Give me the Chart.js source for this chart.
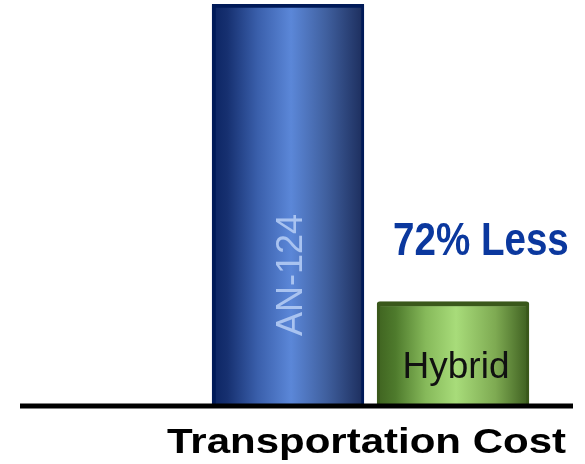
<!DOCTYPE html>
<html>
<head>
<meta charset="utf-8">
<script src="https://cdn.jsdelivr.net/npm/chart.js@4"></script>
<style>
  html, body { margin: 0; padding: 0; background: #fff; }
  #wrap { width: 585px; height: 464px; position: relative; }
</style>
</head>
<body>
<div id="wrap"><canvas id="chartCosto"></canvas></div>
<script>
// ====================================
// TRANSPORTATION COST - bar chart
// ====================================

const categorie = ['AN-124', 'Hybrid'];
const posizioni = [0, 1];
const costi = [100, 26];
const richiamo = '72% Less';
const titolo = 'Transportation Cost';

const X_MIN = -1.624;
const X_MAX = 1.727;
const PADDING = { left: 20, right: 12, top: 4, bottom: 58 };
const BAR_PCT = 0.92;
const BAR_PX = (585 - PADDING.left - PADDING.right) / (X_MAX - X_MIN) * BAR_PCT;

// gradient stops per bar (horizontal shading, like a cylinder)
const sfumature = [
    [[0, '#0b2462'], [0.1, '#163070'], [0.3, '#3a5fab'], [0.52, '#5b87d8'], [0.75, '#40609f'], [1, '#1c2d5c']],
    [[0, '#3f6320'], [0.12, '#4e7a2c'], [0.32, '#86b95a'], [0.52, '#a8dc7a'], [0.78, '#7eaa52'], [1, '#3d5e1f']]
];
const bordi = ['#001a58', '#3a581b'];

function riempimento(context) {
    const chart = context.chart;
    if (!chart.chartArea || !chart.scales.x) return bordi[context.dataIndex];
    const cx = chart.scales.x.getPixelForValue(posizioni[context.dataIndex]);
    const half = BAR_PX / 2;
    const g = chart.ctx.createLinearGradient(cx - half, 0, cx + half, 0);
    sfumature[context.dataIndex].forEach(s => g.addColorStop(s[0], s[1]));
    return g;
}

function scriviTesto(ctx, testo, x, y, font, colore, scalaX, align) {
    ctx.save();
    ctx.translate(x, y);
    ctx.scale(scalaX, 1);
    ctx.font = font;
    ctx.fillStyle = colore;
    ctx.textAlign = align;
    ctx.textBaseline = 'alphabetic';
    ctx.fillText(testo, 0, 0);
    ctx.restore();
}

const pluginTesti = {
    id: 'testi',
    afterDatasetsDraw(chart) {
        const ctx = chart.ctx;
        const area = chart.chartArea;
        const xs = chart.scales.x;
        const ys = chart.scales.y;
        const half = BAR_PX / 2;
        const x0 = xs.getPixelForValue(posizioni[0]);
        const x1 = xs.getPixelForValue(posizioni[1]);
        const base = ys.getPixelForValue(0);

        // baseline
        ctx.save();
        ctx.strokeStyle = '#000';
        ctx.lineWidth = 5;
        ctx.beginPath();
        ctx.moveTo(area.left, base);
        ctx.lineTo(area.right, base);
        ctx.stroke();
        ctx.restore();

        // label inside first bar (rotated)
        ctx.save();
        ctx.translate(x0 + 14, ys.getPixelForValue(costi[0]) + 271);
        ctx.rotate(-Math.PI / 2);
        ctx.font = '36px "Liberation Sans", Arial, sans-serif';
        ctx.fillStyle = '#a9c3f0';
        ctx.textAlign = 'center';
        ctx.textBaseline = 'alphabetic';
        ctx.fillText(categorie[0], 0, 0);
        ctx.restore();

        // label inside second bar
        scriviTesto(ctx, categorie[1], x1 + 3, base - 28,
            '37px "Liberation Sans", Arial, sans-serif', '#111', 1, 'center');

        // callout above second bar
        const top1 = ys.getPixelForValue(costi[1]);
        scriviTesto(ctx, richiamo, x1 - half + 16, top1 - 46,
            'bold 47px "Liberation Sans", Arial, sans-serif', '#0b389e', 0.82, 'left');

        // title under the axis
        scriviTesto(ctx, titolo, (x0 - half + x1 + half) / 2 - 4, base + 47,
            'bold 35px "Liberation Sans", Arial, sans-serif', '#000', 1.2, 'center');
    }
};

const ctxCosto = document.getElementById('chartCosto');

new Chart(ctxCosto, {
    type: 'bar',
    data: {
        datasets: [{
            data: posizioni.map((p, i) => ({ x: p, y: costi[i] })),
            backgroundColor: riempimento,
            borderColor: bordi,
            borderWidth: [
                { top: 4, left: 4, right: 3, bottom: 0 },
                { top: 5, left: 3, right: 3, bottom: 0 }
            ],
            borderRadius: [
                { topLeft: 1, topRight: 1 },
                { topLeft: 3, topRight: 3 }
            ],
            borderSkipped: 'bottom',
            barThickness: BAR_PX
        }]
    },
    options: {
        responsive: true,
        maintainAspectRatio: false,
        animation: false,
        layout: { padding: PADDING },
        plugins: {
            legend: { display: false },
            tooltip: { enabled: false },
            title: { display: false }
        },
        scales: {
            x: {
                type: 'linear',
                min: X_MIN,
                max: X_MAX,
                offset: false,
                display: false
            },
            y: {
                min: 0,
                max: 100,
                display: false
            }
        }
    },
    plugins: [pluginTesti]
});
</script>
</body>
</html>
